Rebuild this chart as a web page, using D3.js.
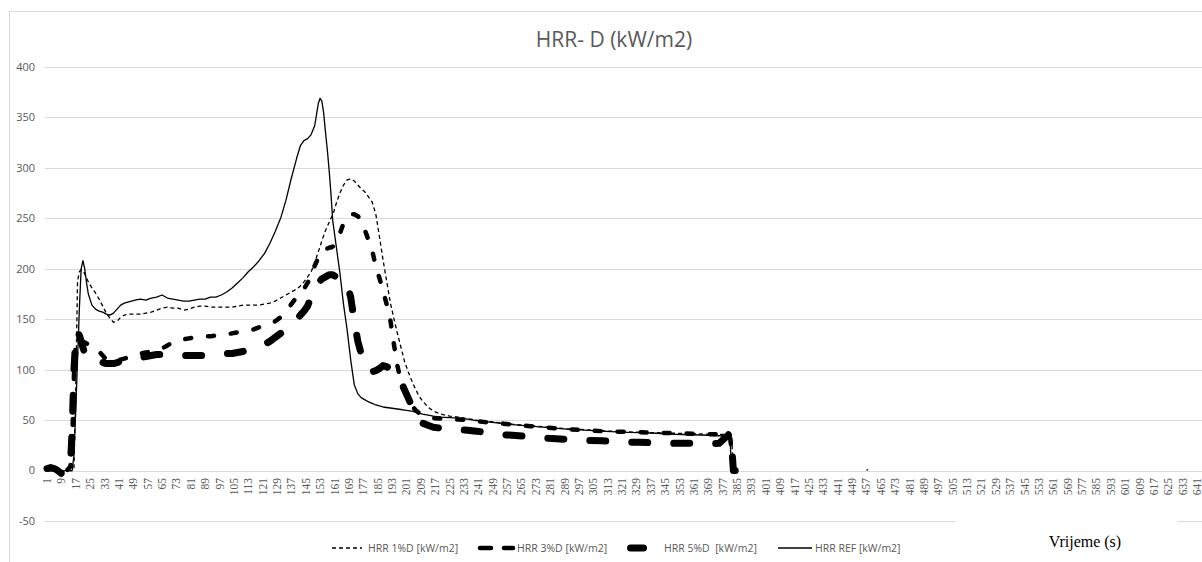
<!DOCTYPE html>
<html><head><meta charset="utf-8">
<script src="https://cdn.jsdelivr.net/npm/d3@7"></script>
<style>body{margin:0;background:#fff}svg{display:block}</style>
</head><body><svg id="c" width="1202" height="562"></svg>
<script>
const timeSec = [
  1, 3, 5, 7, 9, 11, 13, 14, 15, 16,
  17, 18, 19, 20, 21, 22, 23, 24, 26, 28,
  30, 32, 34, 36, 38, 40, 42, 44, 46, 48,
  50, 53, 56, 59, 62, 65, 68, 71, 74, 77,
  80, 83, 86, 89, 92, 95, 98, 101, 104, 107,
  110, 113, 116, 119, 122, 125, 128, 131, 134, 137,
  140, 142, 144, 146, 148, 150, 152, 153, 154, 155,
  156, 157, 158, 159, 160, 162, 164, 166, 168, 170,
  172, 174, 176, 178, 180, 182, 184, 186, 188, 190,
  192, 194, 196, 198, 200, 202, 204, 206, 208, 210,
  213, 216, 220, 225, 230, 235, 240, 245, 250, 255,
  260, 270, 280, 290, 300, 310, 320, 330, 340, 350,
  360, 370, 375, 380, 381, 382, 383, 384, 457, 458
];
const hrrRef = [
  0, 0, 0, 0, 0, 0, 0, 0, 0, 15,
  60, 110, 160, 200, 208, 200, 186, 175, 164, 160,
  158, 157, 155, 154, 156, 160, 164, 166, 167, 168,
  169, 170, 169, 171, 172, 174, 171, 170, 169, 168,
  168, 169, 170, 170, 172, 172, 174, 177, 181, 186,
  191, 197, 202, 208, 215, 225, 237, 250, 268, 290,
  310, 322, 327, 329, 333, 342, 364, 369, 366, 354,
  335, 318, 298, 275, 248, 222, 196, 165, 140, 110,
  85, 76, 72, 70, 68, 66.5, 65, 64, 63, 62.5,
  62, 61.5, 61, 60.5, 60, 59.5, 59, 58, 57, 56,
  55, 54, 53, 52.5, 52, 51, 49.5, 48.5, 47.5, 46.5,
  45.5, 44, 42.5, 41, 40, 39, 38, 37.5, 37, 36,
  35.5, 35, 34.5, 34, 34, 2, 0, null, 0.6, 0.6
];
const hrr1 = [
  0, 0, 0, 0, 0, 0, 0, 0, 0, 3,
  80, 188, 197, 199, 198, 195, 191, 187, 181, 176,
  170, 163, 156, 151, 147, 148, 152, 154, 155, 155,
  155, 155, 156, 157, 159, 161, 162, 161, 161, 159,
  160, 162, 163, 163, 162, 162, 162, 162, 162, 163,
  164, 164, 164, 164, 165, 166, 168, 171, 174, 177,
  180, 183, 187, 192, 197, 206, 217, 222, 228, 233,
  238, 242, 246, 250, 253, 265, 275, 283, 288, 289,
  287, 283, 279, 276, 271, 266, 254, 232, 209, 188,
  167, 151, 136, 122, 108, 98, 89, 81, 74, 69,
  63, 59, 56, 54, 53, 51.5, 50, 49, 48, 47,
  46, 44.5, 43, 41.5, 40.5, 39.5, 38.5, 38, 37.5, 37,
  36.5, 36, 36, 35.5, 35, 34, 2, 0, null, null
];
const hrr3 = [
  2, 2, 1, -1, -3, -2, 2, 4, 25, 95,
  128, 131, 130, 129, 128, 127, 126, 125, 124, 121,
  118, 114, 110, 108, 108, 109, 110, 111, 112, 114,
  115, 116, 117, 118, 119, 121, 124, 127, 129, 130,
  131, 132, 132, 133, 133, 134, 134, 135, 136, 137,
  138, 139, 140, 142, 144, 146, 148, 152, 157, 165,
  172, 176, 180, 186, 192, 203, 211, 214, 216, 219,
  220, 220, 221, 221, 222, 226, 235, 245, 251, 254,
  254, 252, 248, 238, 228, 218, 202, 191, 178, 165,
  150, 126, 104, 88, 80, 72, 65, 60, 57, 55,
  53, 52, 51.5, 51, 50.5, 50, 49, 48, 47.5, 46.5,
  45.5, 44, 42.5, 41, 40, 39, 38.5, 38, 37.5, 37,
  36.5, 36, 36, 35.5, 35, 20, 3, 0, null, null
];
const hrr5 = [
  2, 3, 2, 0, -3, -3, 3, 5, 40, 100,
  132, 138, 134, 128, 122, 116, 111, 110, 110, 109,
  108, 107, 106, 106, 106, 107, 108, 109, 110, 110,
  111, 112, 113, 114, 115, 115, 115, 114, 114, 114,
  114, 114, 114, 114, 115, 115, 115, 116, 116, 117,
  118, 120, 121, 123, 125, 128, 132, 136, 139, 145,
  150, 154, 158, 163, 172, 181, 186, 188, 190, 191,
  192, 193, 194, 194, 194, 192, 190, 190, 185, 172,
  148, 128, 115, 106, 100, 98, 99, 101, 104, 103,
  101, 98, 94, 88, 80, 72, 64, 56, 50, 47,
  45, 43, 42, 41, 40.5, 40, 39, 38, 36.5, 35.5,
  35, 33.5, 32, 31, 30, 29.5, 28.5, 28, 27.5, 27,
  27, 26.5, 27, 35, 37, 25, 0, 0, null, null
];
const yTicks = [-50, 0, 50, 100, 150, 200, 250, 300, 350, 400];
const xTickLabels = d3.range(1, 642, 8);
const seriesNames = ["HRR 1%D [kW/m2]", "HRR 3%D [kW/m2]", "HRR 5%D  [kW/m2]", "HRR REF [kW/m2]"];
const chartTitle = "HRR- D (kW/m2)";
const xTitle = "Vrijeme (s)";

const svg = d3.select("#c");
const x = d3.scaleLinear().domain([1, 641]).range([47, 1197]);
const y = d3.scaleLinear().domain([-50, 400]).range([521, 67]);
const gridX0 = 45, gridX1 = 1202;
const sans = "'Open Sans', 'Liberation Sans', sans-serif";
const serif = "'Liberation Serif', 'DejaVu Serif', serif";

svg.append("rect").attr("width", 1202).attr("height", 562).attr("fill", "#fff");
svg.append("rect").attr("x", 9.5).attr("y", 11.5).attr("width", 1210).attr("height", 570)
  .attr("fill", "none").attr("stroke", "#d9d9d9").attr("stroke-width", 1);

// gridlines
svg.append("g").selectAll("line").data(yTicks).join("line")
  .attr("x1", gridX0).attr("x2", gridX1)
  .attr("y1", d => Math.round(y(d)) + 0.5).attr("y2", d => Math.round(y(d)) + 0.5)
  .attr("stroke", "#d9d9d9").attr("stroke-width", 1);

// y labels
svg.append("g").selectAll("text").data(yTicks).join("text")
  .attr("x", 35).attr("y", d => y(d)).attr("dy", "0.35em")
  .attr("text-anchor", "end").attr("font-family", sans).attr("font-size", 11)
  .attr("fill", "#595959").text(d => d);

// x labels
svg.append("g").selectAll("text").data(xTickLabels).join("text")
  .attr("transform", d => `translate(${x(d)},478) rotate(-90)`)
  .attr("dy", "0.35em").attr("text-anchor", "end")
  .attr("font-family", serif).attr("font-size", 11.5).attr("fill", "#595959").text(d => d);

// series
const styles = [
  { data: hrr1, w: 1.3, dash: "4,3", cap: "butt" },
  { data: hrr3, w: 4.5, dash: "6,17", cap: "round" },
  { data: hrr5, w: 7, dash: "16,26", cap: "round" },
  { data: hrrRef, w: 1.3, dash: null, cap: "butt" }
];
const line = d3.line().defined(d => d[1] != null).x(d => x(d[0])).y(d => y(d[1]));
svg.append("clipPath").attr("id", "pc").append("rect")
  .attr("x", 0).attr("y", 0).attr("width", 1202).attr("height", 562);
const lg = svg.append("g").attr("clip-path", "url(#pc)");
styles.forEach(s => {
  const pts = timeSec.map((t, i) => [t, s.data[i]]);
  lg.append("path").attr("d", line(pts)).attr("fill", "none")
    .attr("stroke", "#000").attr("stroke-width", s.w)
    .attr("stroke-dasharray", s.dash).attr("stroke-linecap", s.cap)
    .attr("stroke-linejoin", "round");
});

// title
svg.append("text").attr("x", 614).attr("y", 47).attr("text-anchor", "middle")
  .attr("font-family", sans).attr("font-size", 21).attr("fill", "#595959").text(chartTitle);

// legend
const legendPos = [
  { x0: 332, x1: 362, tx: 368, dash: "4,3" },
  { x0: 480, x1: 513, tx: 517, dash: "11,13" },
  { x0: 630.5, x1: 659, tx: 664, dash: "13,15.5" },
  { x0: 778, x1: 812, tx: 815, dash: null }
];
const lgY = 548;
legendPos.forEach((p, i) => {
  const s = styles[i];
  svg.append("line").attr("x1", p.x0).attr("x2", p.x1)
    .attr("y1", lgY).attr("y2", lgY)
    .attr("stroke", "#000").attr("stroke-width", s.w)
    .attr("stroke-dasharray", p.dash)
    .attr("stroke-linecap", s.cap);
  svg.append("text").attr("x", p.tx).attr("y", lgY).attr("dy", "0.35em")
    .attr("font-family", sans).attr("font-size", 10.5).attr("fill", "#595959")
    .attr("xml:space", "preserve").style("white-space", "pre").text(seriesNames[i]);
});

// x-axis title box
svg.append("rect").attr("x", 956).attr("y", 515).attr("width", 222).attr("height", 47).attr("fill", "#fff");
svg.append("text").attr("x", 1085).attr("y", 547).attr("text-anchor", "middle")
  .attr("font-family", serif).attr("font-size", 16).attr("fill", "#000").text(xTitle);
</script></body></html>
